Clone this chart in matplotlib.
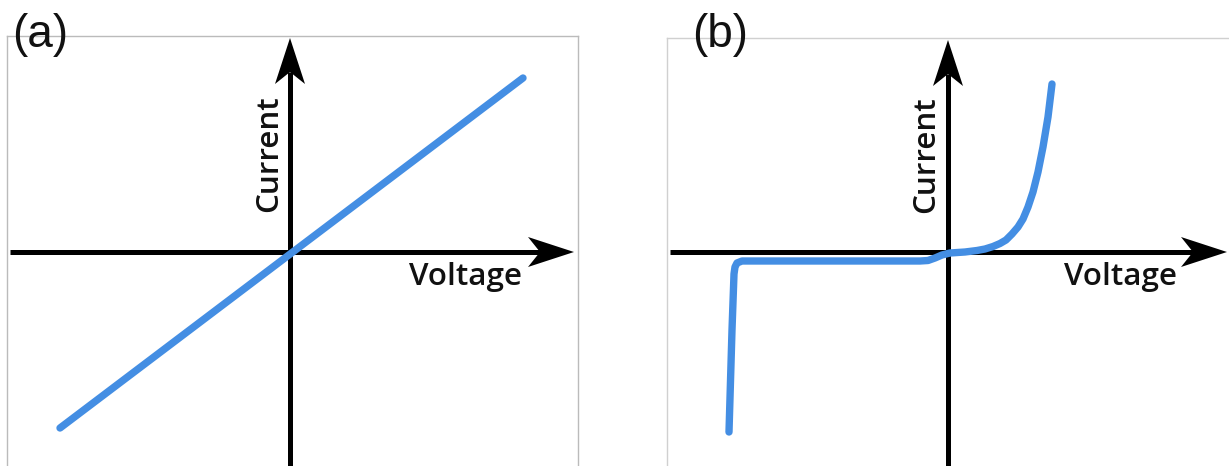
import matplotlib.pyplot as plt
from matplotlib.patches import Polygon
import numpy as np

# panel (a): ohmic, straight line through origin
voltage_a = [-2.30, 2.33]
current_a = [-1.76, 1.74]

# panel (b): diode-like curve (breakdown, flat leakage, forward rise)
voltage_b = [-2.19, -2.16, -2.14, -2.13, -2.11, -2.06, -1.48, -0.48, -0.28, -0.20, -0.13, -0.06,
             0.02, 0.17, 0.29, 0.37, 0.45, 0.52, 0.58, 0.64, 0.70, 0.75, 0.80, 0.85, 0.90,
             0.95, 1.00, 1.04]
current_b = [-1.80, -0.78, -0.22, -0.15, -0.11, -0.09, -0.09, -0.09, -0.09, -0.085, -0.06, -0.03,
             -0.01, 0.00, 0.015, 0.03, 0.055, 0.085, 0.12, 0.18, 0.25, 0.33, 0.45, 0.60, 0.80,
             1.05, 1.35, 1.68]

W, H = 1229, 466
BLUE = '#448ee3'
fig = plt.figure(figsize=(W / 100, H / 100), dpi=100)


def make_axes(left, right, top, bottom, ox, oy, border):
    # pixel box -> axes where 1 data unit = 100 px, origin at (ox, oy)
    ax = fig.add_axes([left / W, (H - bottom) / H, (right - left) / W, (bottom - top) / H])
    ax.set_xlim((left - ox) / 100, (right - ox) / 100)
    ax.set_ylim((oy - bottom) / 100, (oy - top) / 100)
    ax.set_xticks([])
    ax.set_yticks([])
    for s in ax.spines.values():
        s.set_color(border)
        s.set_linewidth(1.0)
    return ax


def arrow_axis(ax, start, tip, horizontal):
    L, hw, notch = 0.46, 0.15, 0.12
    if horizontal:
        ax.plot([start, tip - L + notch], [0, 0], color='black', lw=3.6, solid_capstyle='butt', zorder=2)
        pts = [(tip, 0), (tip - L, hw), (tip - L + notch, 0), (tip - L, -hw)]
    else:
        ax.plot([0, 0], [start, tip - L + notch], color='black', lw=3.6, solid_capstyle='butt', zorder=2)
        pts = [(0, tip), (hw, tip - L), (0, tip - L + notch), (-hw, tip - L)]
    ax.add_patch(Polygon(pts, closed=True, color='black', lw=0, zorder=2))


label_font = dict(family=['Open Sans', 'DejaVu Sans'], fontsize=22.6, fontweight='semibold',
                  color='#111111')

# (a)
ax1 = make_axes(7, 578, 36, 475, 290, 252, '#bbbbbb')
arrow_axis(ax1, -2.80, 2.84, True)
arrow_axis(ax1, -2.30, 2.14, False)
ax1.plot(voltage_a, current_a, color=BLUE, lw=5.3, solid_capstyle='round', zorder=3)
ax1.text(2.32, -0.25, 'Voltage', ha='right', va='center', **label_font)
ax1.text(-0.21, 0.98, 'Current', ha='center', va='center', rotation=90, **label_font)

# (b)
ax2 = make_axes(667, 1240, 38, 475, 948, 252, '#d0d0d0')
arrow_axis(ax2, -2.78, 2.79, True)
arrow_axis(ax2, -2.30, 2.12, False)
ax2.plot(voltage_b, current_b, color=BLUE, lw=5.3, solid_capstyle='round',
         solid_joinstyle='round', zorder=3)
ax2.text(2.29, -0.25, 'Voltage', ha='right', va='center', **label_font)
ax2.text(-0.22, 0.97, 'Current', ha='center', va='center', rotation=90, **label_font)

panel_font = dict(family=['Liberation Sans', 'DejaVu Sans'], fontsize=33, color='#111111')
fig.text(12 / W, 1 - 35 / H, '(a)', ha='left', va='center', **panel_font)
fig.text(692 / W, 1 - 35 / H, '(b)', ha='left', va='center', **panel_font)

fig.savefig('out.png', dpi=100)
